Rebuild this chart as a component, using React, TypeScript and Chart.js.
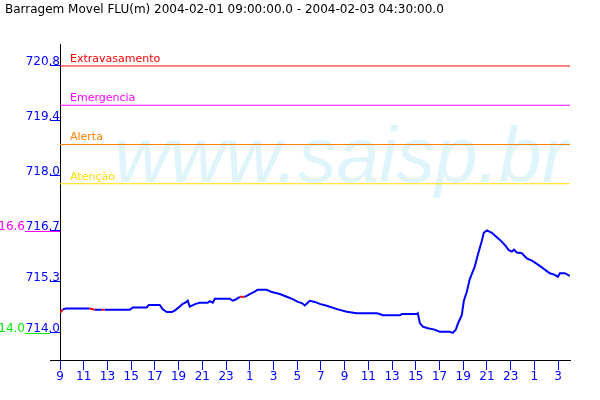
import React, { useEffect, useRef } from 'react';
import { Chart, registerables } from 'chart.js';

Chart.register(...registerables);

const TITLE = 'Barragem Movel FLU(m) 2004-02-01 09:00:00.0 - 2004-02-03 04:30:00.0';
const START_HOUR = 9;
const WATERMARK = 'www.saisp.br';

// hours since 2004-02-01 09:00
const hours = [
  0, 0.23, 0.5, 2.5, 2.93, 3.52, 3.77, 5.88, 6.13, 7.31,
  7.48, 8.41, 8.66, 9.0, 9.42, 9.67, 10.01, 10.35, 10.6, 10.77,
  10.94, 11.44, 11.78, 12.45, 12.62, 12.88, 13.05, 14.31, 14.56, 14.81,
  15.16, 15.58, 16.0, 16.42, 16.67, 17.43, 17.86, 18.53, 19.12, 19.62,
  20.05, 20.39, 20.64, 21.06, 21.48, 21.9, 22.49, 23.42, 24.18, 25.02,
  26.71, 26.96, 27.21, 28.65, 28.82, 30.08, 30.17, 30.34, 30.59, 31.01,
  31.51, 32.02, 32.87, 33.12, 33.37, 33.54, 33.88, 34.05, 34.3, 34.55,
  34.8, 34.97, 35.23, 35.57, 35.73, 35.99, 36.41, 36.83, 37.17, 37.5,
  37.84, 38.1, 38.27, 38.52, 38.94, 39.36, 39.79, 40.21, 40.71, 41.3,
  41.72, 41.98, 42.15, 42.57, 42.99,
];

// water level (m)
const levels = [
  714.51, 714.6, 714.62, 714.62, 714.59, 714.59, 714.59, 714.59, 714.65, 714.65,
  714.71, 714.71, 714.6, 714.53, 714.53, 714.57, 714.65, 714.74, 714.78, 714.82,
  714.67, 714.74, 714.77, 714.77, 714.81, 714.77, 714.87, 714.87, 714.82, 714.85,
  714.92, 714.92, 714.99, 715.05, 715.1, 715.1, 715.04, 714.99, 714.92, 714.86,
  714.79, 714.76, 714.7, 714.82, 714.79, 714.74, 714.69, 714.6, 714.54, 714.5,
  714.5, 714.48, 714.45, 714.45, 714.48, 714.48, 714.5, 714.25, 714.16, 714.12,
  714.09, 714.03, 714.03, 714.0, 714.08, 714.23, 714.46, 714.82, 715.05, 715.37,
  715.56, 715.69, 715.99, 716.35, 716.55, 716.61, 716.55, 716.44, 716.35, 716.24,
  716.11, 716.07, 716.12, 716.05, 716.03, 715.9, 715.84, 715.76, 715.65, 715.52,
  715.48, 715.43, 715.52, 715.52, 715.45,
];

// flagged intervals (drawn in red)
const flagStarts = [0, 2.5, 3.52, 15.16];
const flagEnds = [0.23, 2.93, 3.77, 15.58];

const thresholdNames = ['Extravasamento', 'Emergencia', 'Alerta', 'Atenção'];
const thresholdValues = [720.8, 719.8, 718.8, 717.8];
const thresholdColors = ['#ff0000', '#ff00ff', '#ff8000', '#ffdd00'];

const yTickValues = [714.0, 715.3, 716.6, 718.0, 719.4, 720.8];
const yTickLabels = ['714.0', '715.3', '716.7', '718.0', '719.4', '720.8'];
const xTickValues = [0, 2, 4, 6, 8, 10, 12, 14, 16, 18, 20, 22, 24, 26, 28, 30, 32, 34, 36, 38, 40, 42];

const sideLabels = ['16.6', '14.0'];
const sideValues = [716.6, 714.0];
const sideColors = ['#ff00ff', '#00ee00'];

const Y_MIN = 713.31;
const Y_MAX = 721.36;
const X_MIN = 0;
const X_MAX = 43;

const FONT = '"DejaVu Sans", sans-serif';

export default function App() {
  const ref = useRef<HTMLCanvasElement | null>(null);

  useEffect(() => {
    document.body.style.margin = '0';
    const canvas = ref.current;
    if (!canvas) return;

    const watermark = {
      id: 'watermark',
      beforeDatasetsDraw(chart: any) {
        const { ctx, chartArea } = chart;
        ctx.save();
        ctx.beginPath();
        ctx.rect(chartArea.left, chartArea.top, chartArea.right - chartArea.left, chartArea.bottom - chartArea.top);
        ctx.clip();
        ctx.font = 'italic 77px "Liberation Sans", sans-serif';
        ctx.fillStyle = '#e0f4fc';
        ctx.textBaseline = 'alphabetic';
        ctx.textAlign = 'left';
        ctx.fillText(WATERMARK, chartArea.left + 54, chartArea.top + 138);
        ctx.restore();
      },
    };

    const overlay = {
      id: 'overlay',
      afterDraw(chart: any) {
        const { ctx, chartArea } = chart;
        const y = chart.scales.y;
        ctx.save();
        ctx.textBaseline = 'alphabetic';
        ctx.font = '11px ' + FONT;
        ctx.textAlign = 'left';
        thresholdNames.forEach((n, i) => {
          ctx.fillStyle = thresholdColors[i];
          ctx.fillText(n, chartArea.left + 10, y.getPixelForValue(thresholdValues[i]) - 4);
        });
        ctx.font = '12px ' + FONT;
        ctx.textAlign = 'right';
        sideLabels.forEach((s, i) => {
          const py = Math.round(y.getPixelForValue(sideValues[i])) + 0.5;
          ctx.strokeStyle = sideColors[i];
          ctx.lineWidth = 1;
          ctx.beginPath();
          ctx.moveTo(25, py);
          ctx.lineTo(i === 0 ? chartArea.left : chartArea.left - 10, py);
          ctx.stroke();
          ctx.fillStyle = sideColors[i];
          ctx.fillText(s, 25, py - 2);
        });
        ctx.restore();
      },
    };

    const thresholdSets = thresholdValues.map((v, i) => ({
      label: thresholdNames[i],
      data: [
        { x: X_MIN, y: v },
        { x: X_MAX, y: v },
      ],
      borderColor: thresholdColors[i],
      borderWidth: 1,
      pointRadius: 0,
      fill: false,
    }));

    const isFlagged = (a: number, b: number) => {
      for (let i = 0; i < flagStarts.length; i++) {
        if (a >= flagStarts[i] - 1e-6 && b <= flagEnds[i] + 1e-6) return true;
      }
      return false;
    };

    const chart = new Chart(canvas, {
      type: 'line',
      data: {
        datasets: [
          ...thresholdSets,
          {
            label: 'FLU',
            data: hours.map((h, i) => ({ x: h, y: levels[i] })),
            borderColor: '#0000ff',
            borderWidth: 2,
            pointRadius: 0,
            tension: 0,
            fill: false,
            segment: {
              borderColor: (c: any) => (isFlagged(c.p0.parsed.x, c.p1.parsed.x) ? '#ff0000' : undefined),
            },
          } as any,
        ],
      },
      options: {
        responsive: false,
        animation: false,
        layout: { padding: { left: 5, right: 30, top: 0, bottom: 0 } },
        plugins: {
          legend: { display: false },
          tooltip: { enabled: false },
          title: {
            display: true,
            text: TITLE,
            align: 'start',
            color: '#000000',
            font: { family: FONT, size: 12, weight: 'normal', lineHeight: 1.2 },
            padding: { top: 3, bottom: 26.6 },
          },
        },
        scales: {
          x: {
            type: 'linear',
            min: X_MIN,
            max: X_MAX,
            afterBuildTicks: (s: any) => {
              s.ticks = xTickValues.map((v) => ({ value: v }));
            },
            afterFit: (s: any) => {
              s.height = 40;
            },
            ticks: {
              autoSkip: false,
              maxRotation: 0,
              color: '#0000ff',
              padding: 0,
              font: { family: FONT, size: 12 },
              callback: (v: any) => String((START_HOUR + Number(v)) % 24),
            },
            grid: { drawOnChartArea: false, tickLength: 10, color: '#0000ff' },
            border: { color: '#000000', width: 1 },
          },
          y: {
            type: 'linear',
            min: Y_MIN,
            max: Y_MAX,
            afterBuildTicks: (s: any) => {
              s.ticks = [{ value: Y_MIN }, ...yTickValues.map((v) => ({ value: v }))];
            },
            afterFit: (s: any) => {
              s.width = 55;
            },
            ticks: {
              autoSkip: false,
              color: '#0000ff',
              padding: -10,
              labelOffset: -4,
              font: { family: FONT, size: 12 },
              callback: (_v: any, i: number) => (i === 0 ? '' : yTickLabels[i - 1]),
            },
            grid: {
              drawOnChartArea: false,
              tickLength: 10,
              color: (c: any) => (c.index === 0 ? '#000000' : '#0000ff'),
            },
            border: { color: '#000000', width: 1 },
          },
        },
      } as any,
      plugins: [watermark, overlay],
    });

    return () => chart.destroy();
  }, []);

  return (
    <div style={{ width: 600, height: 400, background: '#ffffff' }}>
      <canvas ref={ref} width={600} height={400} style={{ display: 'block' }} />
    </div>
  );
}
